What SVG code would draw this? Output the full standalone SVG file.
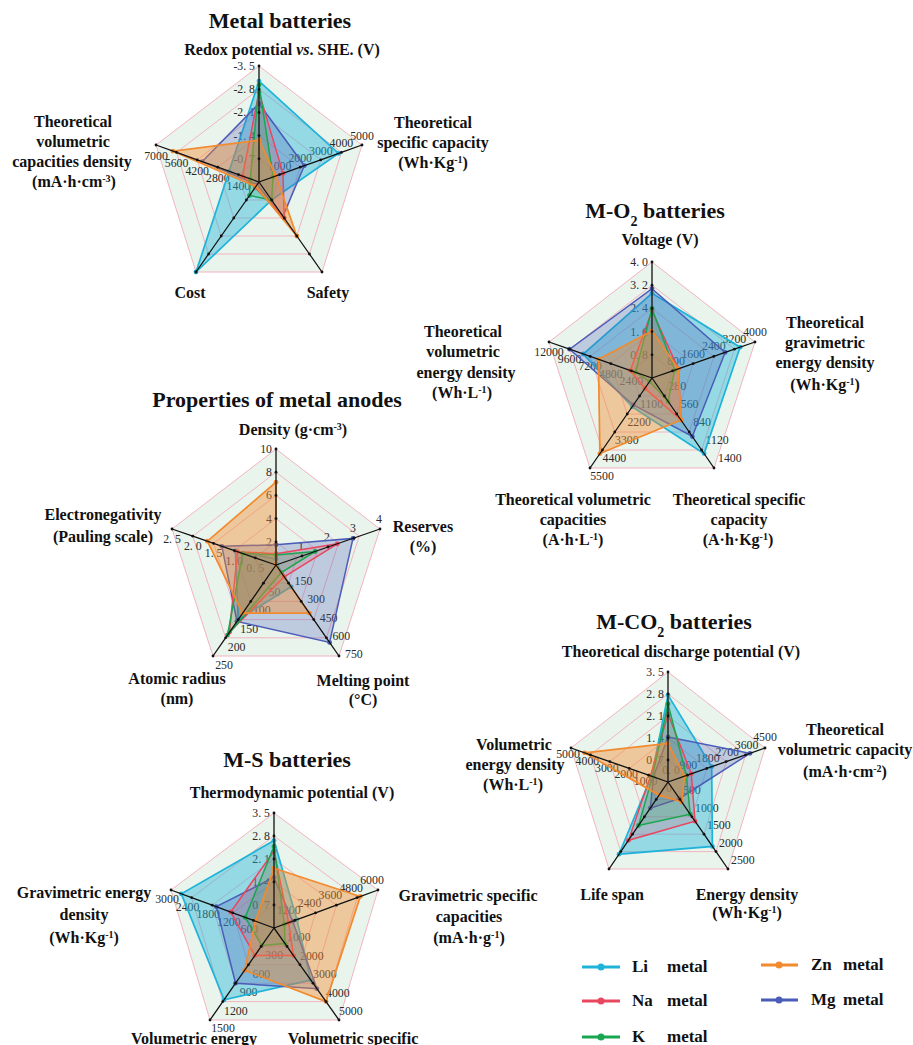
<svg xmlns="http://www.w3.org/2000/svg" width="913" height="1045" viewBox="0 0 913 1045">
<style>
.bg{fill:#e9f4ec;stroke:none}
.grid{fill:none;stroke:#f3b4c0;stroke-width:1}
.ax{fill:none;stroke:#111;stroke-width:1.3;marker-mid:url(#tick);marker-end:url(#tick)}
.t{font-family:"Liberation Serif",serif;font-size:11.8px;fill:#2a2a2a}
.tm{text-anchor:middle}
.te{text-anchor:end}
.l{font-family:"Liberation Serif",serif;font-weight:bold;font-size:16px;fill:#111;text-anchor:middle}
.h{font-family:"Liberation Serif",serif;font-weight:bold;font-size:22px;fill:#111;text-anchor:middle}
.sup{font-size:10px;baseline-shift:super}
.sub{font-size:14px;baseline-shift:sub}
.li{fill:#1fb3d9;fill-opacity:.42;stroke:#1fb3d9;stroke-width:1.7;marker-start:url(#mLi);marker-mid:url(#mLi)}
.na{fill:#e9465f;fill-opacity:.2;stroke:#e9465f;stroke-width:1.5;marker-start:url(#mNa);marker-mid:url(#mNa)}
.k{fill:#1aa650;fill-opacity:.2;stroke:#1aa650;stroke-width:1.5;marker-start:url(#mK);marker-mid:url(#mK)}
.zn{fill:#f28a2e;fill-opacity:.42;stroke:#f28a2e;stroke-width:1.7;marker-start:url(#mZn);marker-mid:url(#mZn)}
.mg{fill:#4a5cb8;fill-opacity:.27;stroke:#4a5cb8;stroke-width:1.5;marker-start:url(#mMg);marker-mid:url(#mMg)}
.lg{font-family:"Liberation Serif",serif;font-weight:bold;font-size:17px;fill:#111}
</style>
<defs>
<marker id="tick" viewBox="-2 -2 4 4" markerWidth="4" markerHeight="4" markerUnits="userSpaceOnUse"><circle r="1.4" fill="#111"/></marker>
<marker id="mLi" viewBox="-3 -3 6 6" markerWidth="6" markerHeight="6" markerUnits="userSpaceOnUse"><circle r="2.4" fill="#1fb3d9"/></marker>
<marker id="mNa" viewBox="-3 -3 6 6" markerWidth="6" markerHeight="6" markerUnits="userSpaceOnUse"><circle r="2.4" fill="#e9465f"/></marker>
<marker id="mK" viewBox="-3 -3 6 6" markerWidth="6" markerHeight="6" markerUnits="userSpaceOnUse"><circle r="2.4" fill="#1aa650"/></marker>
<marker id="mZn" viewBox="-3 -3 6 6" markerWidth="6" markerHeight="6" markerUnits="userSpaceOnUse"><circle r="2.4" fill="#f28a2e"/></marker>
<marker id="mMg" viewBox="-3 -3 6 6" markerWidth="6" markerHeight="6" markerUnits="userSpaceOnUse"><circle r="2.4" fill="#4a5cb8"/></marker>
</defs>
<rect width="913" height="1045" fill="#fff"/>

<!-- Chart 1: Metal batteries -->
<g id="chart-metal">
<polygon class="bg" points="259,66 362,145 322,272 196,272 156,145"/>
<polygon class="grid" points="259,66 362,145 322,272 196,272 156,145"/>
<polygon class="grid" points="259,89.2 341.4,152.4 309.4,254 208.6,254 176.6,152.4"/>
<polygon class="grid" points="259,112.4 320.8,159.8 296.8,236 221.2,236 197.2,159.8"/>
<polygon class="grid" points="259,135.6 300.2,167.2 284.2,218 233.8,218 217.8,167.2"/>
<polygon class="grid" points="259,158.8 279.6,174.6 271.6,200 246.4,200 238.4,174.6"/>
<g class="t te">
<text x="255" y="70">-3. 5</text><text x="255" y="93.2">-2. 8</text><text x="255" y="116.4">-2. 1</text><text x="255" y="139.6">-1. 4</text><text x="255" y="162.8">-0. 7</text>
</g>
<g class="t tm">
<text x="279.6" y="169.6">1000</text><text x="300.2" y="162.2">2000</text><text x="320.8" y="154.8">3000</text><text x="341.4" y="147.4">4000</text><text x="362" y="140">5000</text>
<text x="238.4" y="189.6">1400</text><text x="217.8" y="182.2">2800</text><text x="197.2" y="174.8">4200</text><text x="176.6" y="167.4">5600</text><text x="156" y="160">7000</text>
</g>
<polygon class="li" points="259,81.1 338.5,153.4 271.6,200 196,272 229.1,171.3"/>
<polygon class="mg" points="259,103.5 304.3,165.7 282.9,216.2 257.1,184.7 202.3,161.6"/>
<polygon class="na" points="259,92.2 283,173.4 284.2,218 255.2,187.4 242.5,176.1"/>
<polygon class="k" points="259,84.9 273.1,176.9 271.6,200 249.5,195.5 250.3,178.9"/>
<polygon class="zn" points="259,140.2 275.9,175.9 296.8,236 255.8,186.5 172.9,151.1"/>
<polyline class="ax" points="259,182 259,158.8 259,135.6 259,112.4 259,89.2 259,66"/>
<polyline class="ax" points="259,182 279.6,174.6 300.2,167.2 320.8,159.8 341.4,152.4 362,145"/>
<polyline class="ax" points="259,182 271.6,200 284.2,218 296.8,236 309.4,254 322,272"/>
<polyline class="ax" points="259,182 246.4,200 233.8,218 221.2,236 208.6,254 196,272"/>
<polyline class="ax" points="259,182 238.4,174.6 217.8,167.2 197.2,159.8 176.6,152.4 156,145"/>
<text class="h" x="280" y="28">Metal batteries</text>
<text class="l" x="282" y="55">Redox potential <tspan font-style="italic">vs</tspan>. SHE. (V)</text>
<text class="l" x="433" y="128">Theoretical</text>
<text class="l" x="433" y="148">specific capacity</text>
<text class="l" x="433" y="168">(Wh·Kg<tspan class="sup">-1</tspan>)</text>
<text class="l" x="73" y="127">Theoretical</text>
<text class="l" x="73" y="147">volumetric</text>
<text class="l" x="72" y="167">capacities density</text>
<text class="l" x="74" y="187">(mA·h·cm<tspan class="sup">-3</tspan>)</text>
<text class="l" x="190" y="298">Cost</text>
<text class="l" x="328" y="298">Safety</text>
</g>

<!-- Chart 2: M-O2 batteries -->
<g id="chart-mo2">
<polygon class="bg" points="652,262 755,342 714,468 590,468 549,342"/>
<polygon class="grid" points="652,262 755,342 714,468 590,468 549,342"/>
<polygon class="grid" points="652,285.2 734.4,349.2 701.6,450 602.4,450 569.6,349.2"/>
<polygon class="grid" points="652,308.4 713.8,356.4 689.2,432 614.8,432 590.2,356.4"/>
<polygon class="grid" points="652,331.6 693.2,363.6 676.8,414 627.2,414 610.8,363.6"/>
<polygon class="grid" points="652,354.8 672.6,370.8 664.4,396 639.6,396 631.4,370.8"/>
<g class="t te">
<text x="648" y="266">4. 0</text><text x="648" y="289.2">3. 2</text><text x="648" y="312.4">2. 4</text><text x="648" y="335.6">1. 6</text><text x="648" y="358.8">0. 8</text>
</g>
<g class="t tm">
<text x="676" y="364.8">800</text><text x="693.2" y="357.6">1600</text><text x="713.8" y="350.4">2400</text><text x="734.4" y="343.2">3200</text><text x="755" y="336">4000</text>
<text x="651.6" y="408">1100</text><text x="639.2" y="426">2200</text><text x="626.8" y="444">3300</text><text x="614.4" y="462">4400</text><text x="602" y="480">5500</text>
<text x="631.4" y="384.8">2400</text><text x="610.8" y="377.6">4800</text><text x="590.2" y="370.4">7200</text><text x="569.6" y="363.2">9600</text><text x="549" y="356">12000</text>
</g>
<g class="t">
<text x="668.4" y="390">280</text><text x="680.8" y="408">560</text><text x="693.2" y="426">840</text><text x="705.6" y="444">1120</text><text x="718" y="462">1400</text>
</g>
<polygon class="li" points="652,293.3 740.1,347.2 704.1,453.6 632.2,406.8 583.3,354"/>
<polygon class="mg" points="652,288.7 725.1,352.4 692.3,436.5 633.4,405 569.6,349.2"/>
<polygon class="na" points="652,310.7 678.3,368.8 681,420 644.9,388.4 630.4,370.4"/>
<polygon class="k" points="652,308.4 674.7,370.1 668.1,401.4 649.5,381.6 635.5,372.2"/>
<polygon class="zn" points="652,331 678.3,368.8 681,420 599.9,453.6 598.4,359.3"/>
<polyline class="ax" points="652,378 652,354.8 652,331.6 652,308.4 652,285.2 652,262"/>
<polyline class="ax" points="652,378 672.6,370.8 693.2,363.6 713.8,356.4 734.4,349.2 755,342"/>
<polyline class="ax" points="652,378 664.4,396 676.8,414 689.2,432 701.6,450 714,468"/>
<polyline class="ax" points="652,378 639.6,396 627.2,414 614.8,432 602.4,450 590,468"/>
<polyline class="ax" points="652,378 631.4,370.8 610.8,363.6 590.2,356.4 569.6,349.2 549,342"/>
<text class="h" x="655" y="218">M-O<tspan class="sub">2</tspan> batteries</text>
<text class="l" x="660" y="245">Voltage (V)</text>
<text class="l" x="825" y="328">Theoretical</text>
<text class="l" x="825" y="348">gravimetric</text>
<text class="l" x="825" y="368">energy density</text>
<text class="l" x="825" y="390">(Wh·Kg<tspan class="sup">-1</tspan>)</text>
<text class="l" x="463" y="337">Theoretical</text>
<text class="l" x="463" y="357">volumetric</text>
<text class="l" x="466" y="378">energy density</text>
<text class="l" x="462" y="398">(Wh·L<tspan class="sup">-1</tspan>)</text>
<text class="l" x="573" y="505">Theoretical volumetric</text>
<text class="l" x="573" y="525">capacities</text>
<text class="l" x="573" y="545">(A·h·L<tspan class="sup">-1</tspan>)</text>
<text class="l" x="739" y="505">Theoretical specific</text>
<text class="l" x="739" y="525">capacity</text>
<text class="l" x="738" y="545">(A·h·Kg<tspan class="sup">-1</tspan>)</text>
</g>

<!-- Chart 3: Properties of metal anodes -->
<g id="chart-anodes">
<polygon class="bg" points="276,449 380,529 339,656 213,656 172,529"/>
<polygon class="grid" points="276,449 380,529 339,656 213,656 172,529"/>
<polygon class="grid" points="276,472.2 359.2,536.2 326.4,637.8 225.6,637.8 192.8,536.2"/>
<polygon class="grid" points="276,495.4 338.4,543.4 313.8,619.6 238.2,619.6 213.6,543.4"/>
<polygon class="grid" points="276,518.6 317.6,550.6 301.2,601.4 250.8,601.4 234.4,550.6"/>
<polygon class="grid" points="276,541.8 296.8,557.8 288.6,583.2 263.4,583.2 255.2,557.8"/>
<g class="t te">
<text x="272" y="453">10</text><text x="272" y="476.2">8</text><text x="272" y="499.4">6</text><text x="272" y="522.6">4</text><text x="272" y="545.8">2</text>
</g>
<g class="t tm">
<text x="301" y="550">1</text><text x="327" y="541">2</text><text x="353" y="532">3</text><text x="379" y="523">4</text>
<text x="274.4" y="596.2">50</text><text x="261.8" y="614.4">100</text><text x="249.2" y="632.6">150</text><text x="236.6" y="650.8">200</text><text x="224" y="669">250</text>
<text x="255.2" y="571.8">0. 5</text><text x="234.4" y="564.6">1. 0</text><text x="213.6" y="557.4">1. 5</text><text x="192.8" y="550.2">2. 0</text><text x="172" y="543">2. 5</text>
</g>
<g class="t">
<text x="294.6" y="585.2">150</text><text x="307.2" y="603.4">300</text><text x="319.8" y="621.6">450</text><text x="332.4" y="639.8">600</text><text x="345" y="658">750</text>
</g>
<polygon class="li" points="276,558.9 277,564.6 291.1,586.8 238.2,619.6 235.4,551"/>
<polygon class="mg" points="276,544.8 353,538.4 329.6,642.4 236.9,621.4 221.9,546.3"/>
<polygon class="na" points="276,553.7 337.4,543.8 284.2,576.8 229.4,632.3 237.5,551.7"/>
<polygon class="k" points="276,555 315,551.5 281.3,572.6 227.5,635.1 242.7,553.5"/>
<polygon class="zn" points="276,482.2 276,565 309.4,613.2 242.6,613.2 207.4,541.2"/>
<polyline class="ax" points="276,565 276,541.8 276,518.6 276,495.4 276,472.2 276,449"/>
<polyline class="ax" points="276,565 302,556 328,547 354,538 380,529"/>
<polyline class="ax" points="276,565 288.6,583.2 301.2,601.4 313.8,619.6 326.4,637.8 339,656"/>
<polyline class="ax" points="276,565 263.4,583.2 250.8,601.4 238.2,619.6 225.6,637.8 213,656"/>
<polyline class="ax" points="276,565 255.2,557.8 234.4,550.6 213.6,543.4 192.8,536.2 172,529"/>
<text class="h" x="277" y="407">Properties of metal anodes</text>
<text class="l" x="293" y="435">Density (g·cm<tspan class="sup">-3</tspan>)</text>
<text class="l" x="423" y="532">Reserves</text>
<text class="l" x="423" y="552">(%)</text>
<text class="l" x="103" y="520">Electronegativity</text>
<text class="l" x="103" y="542">(Pauling scale)</text>
<text class="l" x="177" y="684">Atomic radius</text>
<text class="l" x="177" y="704">(nm)</text>
<text class="l" x="363" y="686">Melting point</text>
<text class="l" x="363" y="705">(°C)</text>
</g>

<!-- Chart 4: M-S batteries -->
<g id="chart-ms">
<polygon class="bg" points="274,813 378,890 339,1020 210,1020 171,890"/>
<polygon class="grid" points="274,813 378,890 339,1020 210,1020 171,890"/>
<polygon class="grid" points="274,836 357.2,897.6 326,1001.6 222.8,1001.6 191.6,897.6"/>
<polygon class="grid" points="274,859 336.4,905.2 313,983.2 235.6,983.2 212.2,905.2"/>
<polygon class="grid" points="274,882 315.6,912.8 300,964.8 248.4,964.8 232.8,912.8"/>
<polygon class="grid" points="274,905 294.8,920.4 287,946.4 261.2,946.4 253.4,920.4"/>
<g class="t te">
<text x="270" y="817">3. 5</text><text x="270" y="840">2. 8</text><text x="270" y="863">2. 1</text><text x="270" y="886">1. 4</text><text x="270" y="909">0. 7</text>
</g>
<g class="t tm">
<text x="288.8" y="914.4">1200</text><text x="309.6" y="906.8">2400</text><text x="330.4" y="899.2">3600</text><text x="351.2" y="891.6">4800</text><text x="372" y="884">6000</text>
<text x="274.2" y="959.4">300</text><text x="261.4" y="977.8">600</text><text x="248.6" y="996.2">900</text><text x="235.8" y="1014.6">1200</text><text x="223" y="1032">1500</text>
<text x="249.4" y="933.4">600</text><text x="228.8" y="925.8">1200</text><text x="208.2" y="918.2">1800</text><text x="187.6" y="910.6">2400</text><text x="167" y="903">3000</text>
</g>
<g class="t">
<text x="287" y="941.4">1000</text><text x="300" y="959.8">2000</text><text x="313" y="978.2">3000</text><text x="326" y="996.6">4000</text><text x="339" y="1015">5000</text>
</g>
<polygon class="li" points="274,840.6 296.9,919.6 310.7,980 224.1,999.8 181.3,893.8"/>
<polygon class="mg" points="274,877.4 292.7,921.2 316.9,988.7 235.6,983.2 216.3,906.7"/>
<polygon class="na" points="274,851 288.6,922.7 293.5,955.6 254.8,955.6 230.7,912"/>
<polygon class="k" points="274,846.3 284.4,924.2 285,943.6 261.8,945.5 245.2,917.4"/>
<polygon class="zn" points="274,868.2 360.3,896.5 326,1001.6 244.6,970.3 255.5,921.2"/>
<polyline class="ax" points="274,928 274,905 274,882 274,859 274,836 274,813"/>
<polyline class="ax" points="274,928 294.8,920.4 315.6,912.8 336.4,905.2 357.2,897.6 378,890"/>
<polyline class="ax" points="274,928 287,946.4 300,964.8 313,983.2 326,1001.6 339,1020"/>
<polyline class="ax" points="274,928 261.2,946.4 248.4,964.8 235.6,983.2 222.8,1001.6 210,1020"/>
<polyline class="ax" points="274,928 253.4,920.4 232.8,912.8 212.2,905.2 191.6,897.6 171,890"/>
<text class="h" x="287" y="767">M-S batteries</text>
<text class="l" x="292" y="798">Thermodynamic potential (V)</text>
<text class="l" x="84" y="898">Gravimetric energy</text>
<text class="l" x="84" y="920">density</text>
<text class="l" x="84" y="943">(Wh·Kg<tspan class="sup">-1</tspan>)</text>
<text class="l" x="468" y="901">Gravimetric specific</text>
<text class="l" x="469" y="922">capacities</text>
<text class="l" x="469" y="943">(mA·h·g<tspan class="sup">-1</tspan>)</text>
<text class="l" x="194" y="1044">Volumetric energy</text>
<text class="l" x="353" y="1044">Volumetric specific</text>
</g>

<!-- Chart 5: M-CO2 batteries -->
<g id="chart-mco2">
<polygon class="bg" points="668,672 765,748 728,869 609,869 571,748"/>
<polygon class="grid" points="668,672 765,748 728,869 609,869 571,748"/>
<polygon class="grid" points="668,694 745.6,754.8 716,851.6 620.8,851.6 590.4,754.8"/>
<polygon class="grid" points="668,716 726.2,761.6 704,834.2 632.6,834.2 609.8,761.6"/>
<polygon class="grid" points="668,738 706.8,768.4 692,816.8 644.4,816.8 629.2,768.4"/>
<polygon class="grid" points="668,760 687.4,775.2 680,799.4 656.2,799.4 648.6,775.2"/>
<g class="t te">
<text x="664" y="676">3. 5</text><text x="664" y="698">2. 8</text><text x="664" y="720">2. 1</text><text x="664" y="742">1. 4</text><text x="664" y="764">0. 7</text>
</g>
<g class="t tm">
<text x="688.4" y="769.2">900</text><text x="707.8" y="762.4">1800</text><text x="727.2" y="755.6">2700</text><text x="746.6" y="748.8">3600</text><text x="765" y="741">4500</text>
<text x="645.6" y="785.2">1000</text><text x="626.2" y="778.4">2000</text><text x="606.8" y="771.6">3000</text><text x="587.4" y="764.8">4000</text><text x="568" y="758">5000</text>
<text x="671" y="774">0. 0</text><text x="669" y="792">0</text>
</g>
<g class="t">
<text x="683" y="794.4">500</text><text x="695" y="811.8">1000</text><text x="707" y="829.2">1500</text><text x="719" y="846.6">2000</text><text x="731" y="864">2500</text>
</g>
<polygon class="li" points="668,695.1 711.7,766.7 712.4,846.4 619,854.2 651.5,776.2"/>
<polygon class="mg" points="668,736.9 750,753.3 679.4,798.5 650.3,808.1 653.5,776.9"/>
<polygon class="na" points="668,713.8 691.3,773.8 695,821.2 628.5,840.3 650.5,775.9"/>
<polygon class="k" points="668,703.9 686.4,775.5 690.2,814.2 638.5,825.5 652.5,776.6"/>
<polygon class="zn" points="668,743.5 684.5,776.2 681.8,802 659.1,795.1 584.6,752.8"/>
<polyline class="ax" points="668,782 668,760 668,738 668,716 668,694 668,672"/>
<polyline class="ax" points="668,782 687.4,775.2 706.8,768.4 726.2,761.6 745.6,754.8 765,748"/>
<polyline class="ax" points="668,782 680,799.4 692,816.8 704,834.2 716,851.6 728,869"/>
<polyline class="ax" points="668,782 656.2,799.4 644.4,816.8 632.6,834.2 620.8,851.6 609,869"/>
<polyline class="ax" points="668,782 648.6,775.2 629.2,768.4 609.8,761.6 590.4,754.8 571,748"/>
<text class="h" x="674" y="629">M-CO<tspan class="sub">2</tspan> batteries</text>
<text class="l" x="681" y="657">Theoretical discharge potential (V)</text>
<text class="l" x="845" y="735">Theoretical</text>
<text class="l" x="845" y="755">volumetric capacity</text>
<text class="l" x="845" y="777">(mA·h·cm<tspan class="sup">-2</tspan>)</text>
<text class="l" x="514" y="750">Volumetric</text>
<text class="l" x="515" y="770">energy density</text>
<text class="l" x="513" y="790">(Wh·L<tspan class="sup">-1</tspan>)</text>
<text class="l" x="612" y="900">Life span</text>
<text class="l" x="747" y="900">Energy density</text>
<text class="l" x="747" y="918">(Wh·Kg<tspan class="sup">-1</tspan>)</text>
</g>

<!-- Legend -->
<g id="legend">
<line x1="582" y1="967" x2="620" y2="967" stroke="#1fb3d9" stroke-width="3"/><circle cx="601" cy="967" r="3.5" fill="#1fb3d9"/>
<text class="lg" x="632" y="972">Li</text><text class="lg" x="667" y="972">metal</text>
<line x1="582" y1="1001" x2="620" y2="1001" stroke="#e9465f" stroke-width="3"/><circle cx="601" cy="1001" r="3.5" fill="#e9465f"/>
<text class="lg" x="632" y="1006">Na</text><text class="lg" x="667" y="1006">metal</text>
<line x1="582" y1="1037" x2="620" y2="1037" stroke="#1aa650" stroke-width="3"/><circle cx="601" cy="1037" r="3.5" fill="#1aa650"/>
<text class="lg" x="632" y="1042">K</text><text class="lg" x="667" y="1042">metal</text>
<line x1="761" y1="965" x2="798" y2="965" stroke="#f28a2e" stroke-width="3"/><circle cx="779" cy="965" r="3.5" fill="#f28a2e"/>
<text class="lg" x="811" y="970">Zn</text><text class="lg" x="843" y="970">metal</text>
<line x1="761" y1="1000" x2="798" y2="1000" stroke="#4a5cb8" stroke-width="3"/><circle cx="779" cy="1000" r="3.5" fill="#4a5cb8"/>
<text class="lg" x="811" y="1005">Mg</text><text class="lg" x="843" y="1005">metal</text>
</g>
</svg>
